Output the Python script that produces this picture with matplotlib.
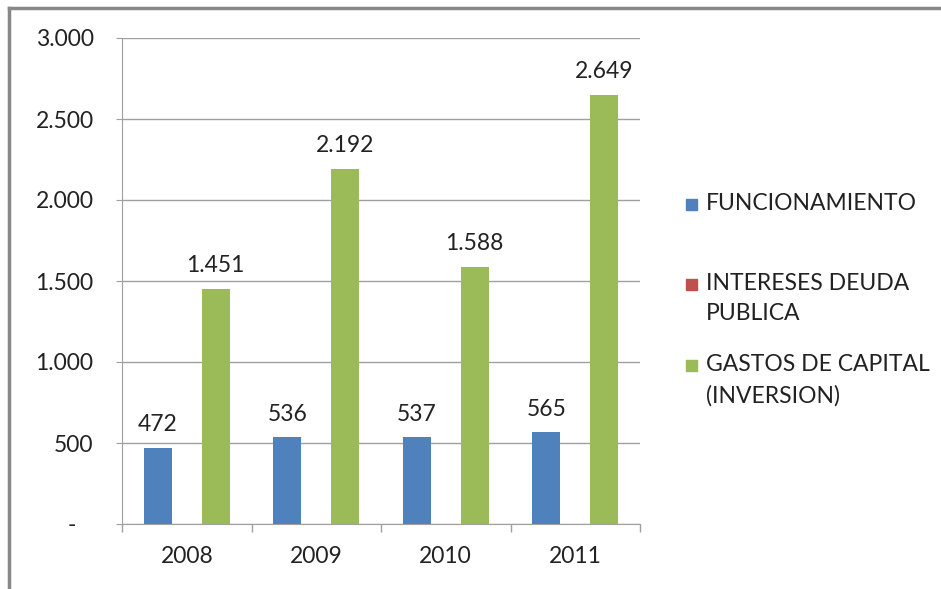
import numpy as np
import matplotlib.pyplot as plt
from matplotlib.patches import Rectangle
from matplotlib.lines import Line2D

years = ['2008', '2009', '2010', '2011']
funcionamiento = [472, 536, 537, 565]
intereses = [0, 0, 0, 0]
capital = [1451, 2192, 1588, 2649]
series_names = ['FUNCIONAMIENTO', 'INTERESES DEUDA\nPUBLICA', 'GASTOS DE CAPITAL\n(INVERSION)']
series_colors = ['#4F81BD', '#C0504D', '#9BBB59']
yticks = [0, 500, 1000, 1500, 2000, 2500, 3000]
ytick_labels = ['-   ', '500', '1.000', '1.500', '2.000', '2.500', '3.000']

plt.rcParams['font.family'] = ['Lato', 'DejaVu Sans']
fs = 16.5

fig = plt.figure(figsize=(9.41, 5.89), dpi=100)
ax = fig.add_axes([122/941, 1 - 524/589, 518/941, 486/589])

x = np.arange(len(years))
w = 0.217
off = 0.224
series = [funcionamiento, intereses, capital]
for i, vals in enumerate(series):
    bars = ax.bar(x + (i - 1) * off, vals, width=w, color=series_colors[i], zorder=3)
    if i != 1:
        labels = ['{:,}'.format(v).replace(',', '.') for v in vals]
        ax.bar_label(bars, labels=labels, padding=9, fontsize=fs, color='#222222')

ax.set_xlim(-0.5, len(years) - 0.5)
ax.set_ylim(0, 3000)
ax.set_yticks(yticks)
ax.set_yticklabels(ytick_labels, fontsize=fs, color='#222222')
ax.set_xticks(x)
ax.set_xticklabels(years, fontsize=fs, color='#222222')
ax.tick_params(axis='x', length=0, pad=16)
ax.tick_params(axis='y', length=4.5, color='#A0A0A0', pad=16)
ax.set_xticks(np.arange(len(years) + 1) - 0.5, minor=True)
ax.tick_params(axis='x', which='minor', length=6, color='#A0A0A0', width=1)

ax.grid(axis='y', color='#A0A0A0', linewidth=1, zorder=0)
for s in ['top', 'right']:
    ax.spines[s].set_visible(False)
for s in ['left', 'bottom']:
    ax.spines[s].set_color('#A0A0A0')

# legend drawn by hand
leg_tops = [193, 273, 354]
for name, col, top in zip(series_names, series_colors, leg_tops):
    fig.patches.append(Rectangle((686/941, 1 - (top + 17)/589), 11/941, 11/589,
                                 transform=fig.transFigure, color=col))
    fig.text(706/941, 1 - top/589, name, fontsize=fs, color='#222222',
             va='top', ha='left', linespacing=1.55)

# chart frame (top and left edges)
fig.add_artist(Line2D([9/941, 1], [1 - 8/589, 1 - 8/589], transform=fig.transFigure,
                      color='#888888', linewidth=2.5))
fig.add_artist(Line2D([9/941, 9/941], [0, 1 - 8/589], transform=fig.transFigure,
                      color='#888888', linewidth=2.5))

fig.savefig('out.png', dpi=100)
